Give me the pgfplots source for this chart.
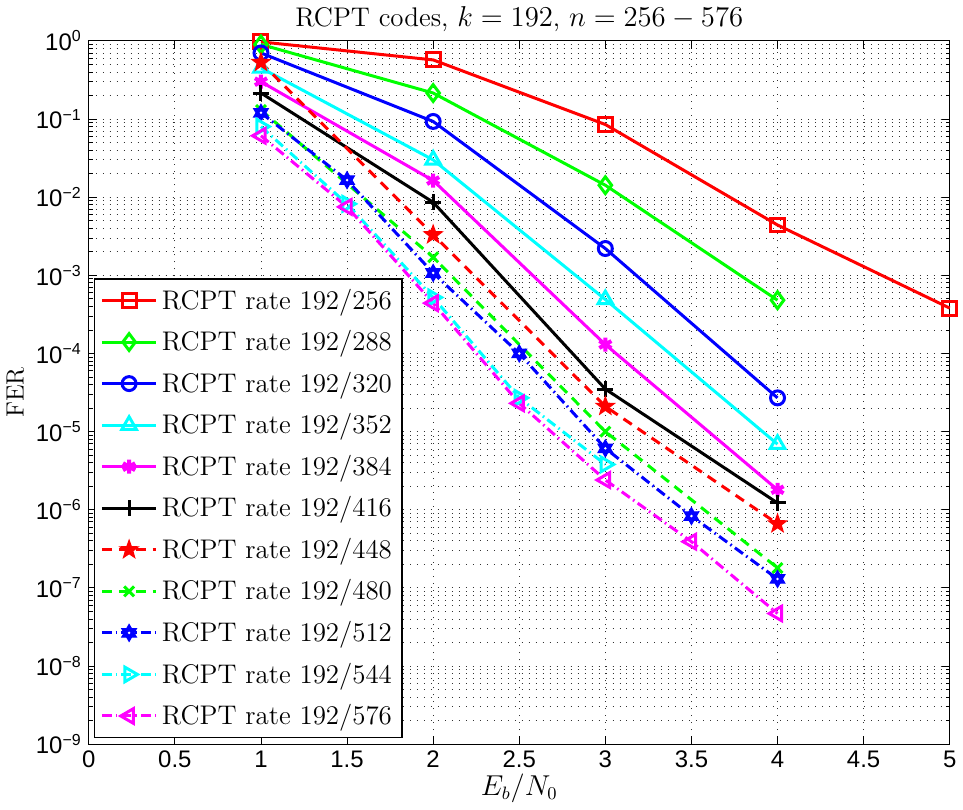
\documentclass[border=0pt]{standalone}
\usepackage{fontspec}
\usepackage{pgfplots}
\pgfplotsset{compat=1.18}
\usetikzlibrary{plotmarks}
\newfontfamily\ticksf{Liberation Sans}
\definecolor{mred}{RGB}{255,0,0}
\definecolor{mgreen}{RGB}{0,255,0}
\definecolor{mblue}{RGB}{0,0,255}
\definecolor{mcyan}{RGB}{0,255,255}
\definecolor{mmag}{RGB}{255,0,255}
\pgfdeclareplotmark{pentagram}{%
\pgfpathmoveto{\pgfpointpolar{90}{1.35\pgfplotmarksize}}%
\pgfpathlineto{\pgfpointpolar{126}{0.55\pgfplotmarksize}}%
\pgfpathlineto{\pgfpointpolar{162}{1.35\pgfplotmarksize}}%
\pgfpathlineto{\pgfpointpolar{198}{0.55\pgfplotmarksize}}%
\pgfpathlineto{\pgfpointpolar{234}{1.35\pgfplotmarksize}}%
\pgfpathlineto{\pgfpointpolar{270}{0.55\pgfplotmarksize}}%
\pgfpathlineto{\pgfpointpolar{306}{1.35\pgfplotmarksize}}%
\pgfpathlineto{\pgfpointpolar{342}{0.55\pgfplotmarksize}}%
\pgfpathlineto{\pgfpointpolar{18}{1.35\pgfplotmarksize}}%
\pgfpathlineto{\pgfpointpolar{54}{0.55\pgfplotmarksize}}%
\pgfpathclose\pgfusepathqfillstroke}
\pgfdeclareplotmark{hexagram}{%
\pgfpathmoveto{\pgfpointpolar{90}{1.2\pgfplotmarksize}}%
\pgfpathlineto{\pgfpointpolar{120}{0.69\pgfplotmarksize}}%
\pgfpathlineto{\pgfpointpolar{150}{1.2\pgfplotmarksize}}%
\pgfpathlineto{\pgfpointpolar{180}{0.69\pgfplotmarksize}}%
\pgfpathlineto{\pgfpointpolar{210}{1.2\pgfplotmarksize}}%
\pgfpathlineto{\pgfpointpolar{240}{0.69\pgfplotmarksize}}%
\pgfpathlineto{\pgfpointpolar{270}{1.2\pgfplotmarksize}}%
\pgfpathlineto{\pgfpointpolar{300}{0.69\pgfplotmarksize}}%
\pgfpathlineto{\pgfpointpolar{330}{1.2\pgfplotmarksize}}%
\pgfpathlineto{\pgfpointpolar{0}{0.69\pgfplotmarksize}}%
\pgfpathlineto{\pgfpointpolar{30}{1.2\pgfplotmarksize}}%
\pgfpathlineto{\pgfpointpolar{60}{0.69\pgfplotmarksize}}%
\pgfpathclose\pgfusepathqfillstroke
\begin{pgfscope}%
\pgfpathcircle{\pgfpointorigin}{0.2\pgfplotmarksize}%
\pgfsetfillcolor{white}\pgfusepathqfill
\end{pgfscope}}
\begin{document}
\begin{tikzpicture}
\begin{axis}[
  scale only axis,
  width=431.5pt, height=352.5pt,
  xmin=0, xmax=5, ymin=1e-9, ymax=1,
  ymode=log,
  xtick={0,0.5,1,1.5,2,2.5,3,3.5,4,4.5,5},
  xticklabels={0,0.5,1,1.5,2,2.5,3,3.5,4,4.5,5},
  ytick={1e-9,1e-8,1e-7,1e-6,1e-5,1e-4,1e-3,1e-2,1e-1,1},
  yticklabels={10\textsuperscript{−9},10\textsuperscript{−8},10\textsuperscript{−7},10\textsuperscript{−6},10\textsuperscript{−5},10\textsuperscript{−4},10\textsuperscript{−3},10\textsuperscript{−2},10\textsuperscript{−1},10\textsuperscript{0}},
  tick label style={font=\ticksf\fontsize{12}{14}\selectfont},
  tick align=inside,
  major tick length=4pt, minor tick length=2pt,
  every tick/.style={black, line width=0.4pt},
  axis line style={line width=0.6pt},
  xmajorgrids, ymajorgrids, yminorgrids,
  major grid style={black!80, line width=0.4pt, dash pattern=on 0.5pt off 3pt},
  minor grid style={black!80, line width=0.4pt, dash pattern=on 0.5pt off 3pt},
  title={RCPT codes, $k=192$, $n=256-576$},
  title style={font=\fontsize{13.5}{15}\selectfont, yshift=-5pt},
  xlabel={$E_b/N_0$},
  ylabel={FER},
  xlabel style={font=\fontsize{13.5}{15}\selectfont, yshift=4pt},
  ylabel style={font=\fontsize{12.5}{14}\selectfont, yshift=-1pt},
  clip=false,
  every axis plot/.append style={line width=1.5pt, mark size=3.5pt},
  legend style={at={(0,0)}, anchor=south west, xshift=2.5pt, yshift=3pt,
    font=\fontsize{13.5}{15}\selectfont, draw=black, line width=0.6pt,
    row sep=5.2pt, inner sep=3pt},
  legend cell align=left,
  legend image code/.code={\draw[mark repeat=2,mark phase=2,#1] plot coordinates {(0cm,0cm) (0.48cm,0cm) (0.96cm,0cm)};},
]
\addplot[mred, mark=square] coordinates {(1,0.97) (2,0.57) (3,0.085) (4,4.4e-3) (5,3.8e-4)};
\addlegendentry{RCPT rate 192/256}
\addplot[mgreen, mark=diamond, mark size=4.2pt] coordinates {(1,0.9) (2,0.215) (3,0.0142) (4,4.8e-4)};
\addlegendentry{RCPT rate 192/288}
\addplot[mblue, mark=o] coordinates {(1,0.70) (2,0.093) (3,2.2e-3) (4,2.7e-5)};
\addlegendentry{RCPT rate 192/320}
\addplot[mcyan, mark=triangle, mark size=4.2pt] coordinates {(1,0.45) (2,0.030) (3,4.9e-4) (4,6.9e-6)};
\addlegendentry{RCPT rate 192/352}
\addplot[mmag, mark=asterisk, mark options={line width=2pt}] coordinates {(1,0.30) (2,0.0163) (3,1.3e-4) (4,1.8e-6)};
\addlegendentry{RCPT rate 192/384}
\addplot[black, mark=+, mark size=4pt] coordinates {(1,0.215) (2,8.6e-3) (3,3.5e-5) (4,1.22e-6)};
\addlegendentry{RCPT rate 192/416}
\addplot[mred, dash pattern=on 5pt off 3.5pt, mark=pentagram, mark options={solid, fill=mred, line width=0.6pt}] coordinates {(1,0.53) (2,3.3e-3) (3,2.1e-5) (4,6.6e-7)};
\addlegendentry{RCPT rate 192/448}
\addplot[mgreen, dash pattern=on 5pt off 3.5pt, mark=x, mark options={solid}] coordinates {(1,0.13) (2,1.7e-3) (3,1.0e-5) (4,1.8e-7)};
\addlegendentry{RCPT rate 192/480}
\addplot[mblue, dash pattern=on 5pt off 2pt on 0.8pt off 2pt, mark=hexagram, mark options={solid, fill=mblue, line width=0.6pt}] coordinates {(1,0.12) (1.5,0.0165) (2,1.07e-3) (2.5,1.0e-4) (3,6.1e-6) (3.5,8.3e-7) (4,1.3e-7)};
\addlegendentry{RCPT rate 192/512}
\addplot[mcyan, dash pattern=on 5pt off 2pt on 0.8pt off 2pt, mark=triangle, mark size=4.2pt, mark options={solid, rotate=-90}] coordinates {(1,0.08) (1.5,8.2e-3) (2,5.2e-4) (2.5,2.7e-5) (3,3.8e-6)};
\addlegendentry{RCPT rate 192/544}
\addplot[mmag, dash pattern=on 5pt off 2pt on 0.8pt off 2pt, mark=triangle, mark size=4.2pt, mark options={solid, rotate=90}] coordinates {(1,0.061) (1.5,7.5e-3) (2,4.4e-4) (2.5,2.3e-5) (3,2.4e-6) (3.5,3.9e-7) (4,4.7e-8)};
\addlegendentry{RCPT rate 192/576}
\end{axis}
\end{tikzpicture}
\end{document}
